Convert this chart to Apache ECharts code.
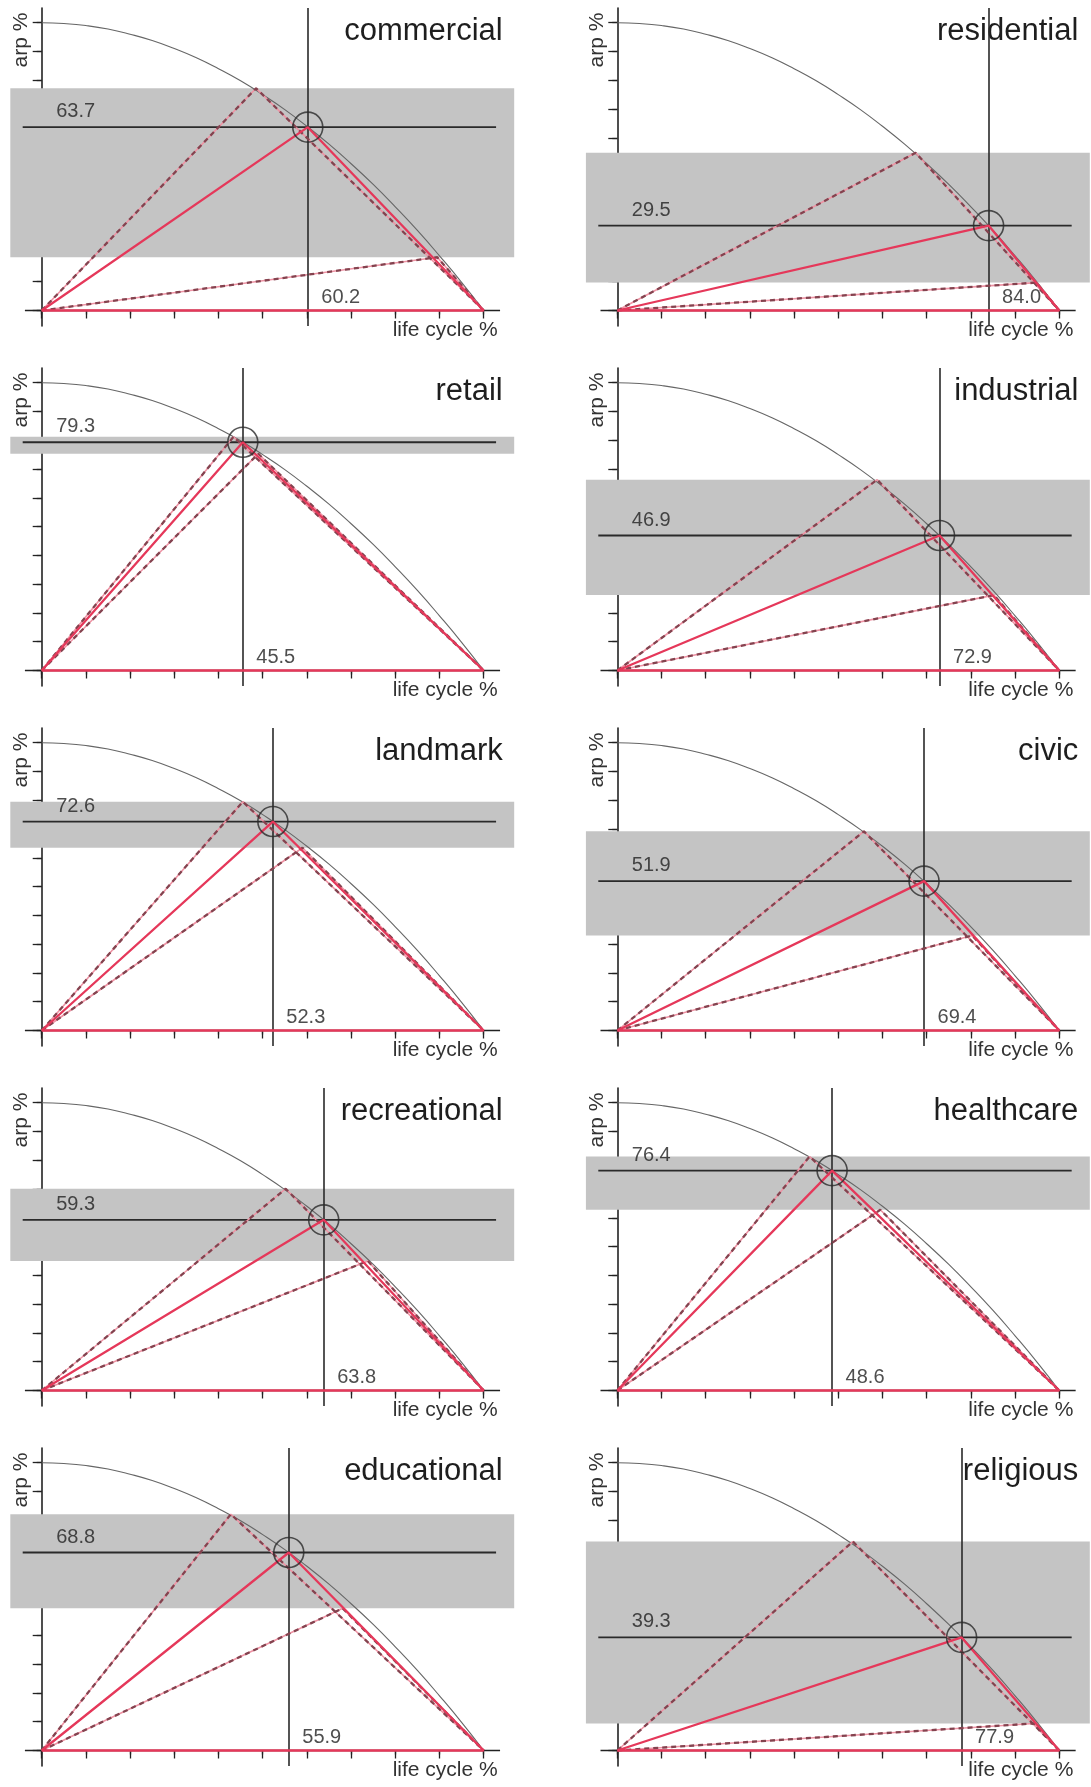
<!DOCTYPE html>
<html><head><meta charset="utf-8">
<script src="https://cdn.jsdelivr.net/npm/echarts@6/dist/echarts.min.js"></script>
<style>html,body{margin:0;padding:0;background:#fff}#c{width:1091px;height:1787px}</style>
</head><body><div id="c"></div>
<script>
// ---- data ----
const CATEGORIES = ['commercial','residential','retail','industrial','landmark','civic','recreational','healthcare','educational','religious'];
const LIFE_CYCLE = [60.2, 84.0, 45.5, 72.9, 52.3, 69.4, 63.8, 48.6, 55.9, 77.9];
const ARP        = [63.7, 29.5, 79.3, 46.9, 72.6, 51.9, 59.3, 76.4, 68.8, 39.3];
const BAND_LOW   = [18.5, 9.7, 75.3, 26.2, 63.5, 33.0, 45.0, 62.8, 49.4, 9.4];
const BAND_HIGH  = [77.2, 54.8, 81.2, 66.3, 79.5, 69.2, 70.1, 81.3, 82.1, 72.6];
const UPPER_X    = [48.5, 67.5, 43.4, 58.8, 45.5, 55.8, 55.2, 43.5, 42.8, 53.3];
const LOWER_X    = [89.5, 94.8, 49.0, 85.2, 59.0, 80.3, 73.8, 59.5, 68.1, 94.2];
const CURVE_X = [0,5,10,15,20,25,30,35,40,45,50,55,60,65,70,75,80,85,90,95,100];
const CURVE_Y = [100,99.7,99,97.8,96,93.8,91,87.8,84,79.8,75,69.8,64,57.8,51,43.8,36,27.8,19,9.8,0];
const TICK_VALUES = [0,10,20,30,40,50,60,70,80,90,100];
const X_AXIS_NAME = 'life cycle %';
const Y_AXIS_NAME = 'arp %';

// ---- layout / style ----
const COL_AXIS_X = [41.7, 617.3];
const ROW_H = 360;
const BASELINE = 310.5;
const PX_X = 4.42, PX_Y = 2.878;
const X_MIN = -7.1, X_MAX = 106.9, Y_MIN = -5.4, Y_MAX = 105.1;
const AXIS_LINE_X = [-3.8, 103.7];
const HLINE_X = [-4.3, 102.8];
const FONT = '"Liberation Sans", Arial, Helvetica, sans-serif';
const DARK = '#2a2a2a';
const RED = '#e5385a';

const grids = [], xAxes = [], yAxes = [], series = [], graphics = [];
const xAxes2 = [], yAxes2 = [];
const n = CATEGORIES.length;

for (let i = 0; i < n; i++) {
  const col = i % 2, row = Math.floor(i / 2);
  const ax = COL_AXIS_X[col];
  const rowTop = row * ROW_H;
  grids.push({
    left: ax + X_MIN * PX_X,
    top: rowTop + BASELINE - Y_MAX * PX_Y,
    width: (X_MAX - X_MIN) * PX_X,
    height: (Y_MAX - Y_MIN) * PX_Y,
    containLabel: false
  });
  const tickStyle = { color: '#222', width: 1.3 };
  xAxes.push({ gridIndex: i, type: 'value', min: X_MIN, max: X_MAX,
    axisLine: { show: false, onZero: true },
    axisTick: { show: true, customValues: TICK_VALUES, length: 8, inside: false, lineStyle: tickStyle },
    axisLabel: { show: false }, splitLine: { show: false } });
  xAxes2.push({ gridIndex: i, type: 'value', min: X_MIN, max: X_MAX,
    axisLine: { show: false, onZero: true },
    axisTick: { show: true, customValues: TICK_VALUES, length: 4, inside: true, lineStyle: tickStyle },
    axisLabel: { show: false }, splitLine: { show: false } });
  yAxes.push({ gridIndex: i, type: 'value', min: Y_MIN, max: Y_MAX,
    axisLine: { show: true, onZero: true, lineStyle: { color: '#222', width: 1.6 } },
    axisTick: { show: true, customValues: TICK_VALUES, length: 5, inside: false, lineStyle: tickStyle },
    axisLabel: { show: false }, splitLine: { show: false } });
  yAxes2.push({ gridIndex: i, type: 'value', min: Y_MIN, max: Y_MAX,
    axisLine: { show: false, onZero: true },
    axisTick: { show: true, customValues: TICK_VALUES, length: 9, inside: true, lineStyle: tickStyle },
    axisLabel: { show: false }, splitLine: { show: false } });

  const base = { xAxisIndex: i, yAxisIndex: i, silent: true, animation: false };
  const lx = LIFE_CYCLE[i], ly = ARP[i];

  // band
  series.push(Object.assign({}, base, { type: 'line', data: [], z: 1,
    markArea: { silent: true, itemStyle: { color: '#c4c4c4' },
      data: [[{ yAxis: BAND_LOW[i] }, { yAxis: BAND_HIGH[i] }]] } }));
  // curve
  series.push(Object.assign({}, base, { type: 'line', z: 2, smooth: true, showSymbol: false,
    data: CURVE_X.map((x, k) => [x, CURVE_Y[k]]),
    lineStyle: { color: '#666', width: 1.1 } }));
  // x axis line
  series.push(Object.assign({}, base, { type: 'line', z: 3, showSymbol: false,
    data: [[AXIS_LINE_X[0], 0], [AXIS_LINE_X[1], 0]],
    lineStyle: { color: '#222', width: 1.6 } }));
  // crosshair
  series.push(Object.assign({}, base, { type: 'line', z: 3, showSymbol: false,
    data: [[HLINE_X[0], ly], [HLINE_X[1], ly]],
    lineStyle: { color: DARK, width: 1.8 },
    markLine: { silent: true, symbol: ['none', 'none'], label: { show: false },
      lineStyle: { color: DARK, width: 1.6, type: 'solid' },
      data: [{ xAxis: lx }] } }));
  // dashed scenario lines
  const upper = [[0, 0], [UPPER_X[i], BAND_HIGH[i]], [100, 0]];
  const lower = [[0, 0], [LOWER_X[i], BAND_LOW[i]], [100, 0]];
  [upper, lower].forEach(d => {
    series.push(Object.assign({}, base, { type: 'line', z: 4, showSymbol: false, data: d,
      lineStyle: { color: '#ee93a4', width: 1.6 } }));
    series.push(Object.assign({}, base, { type: 'line', z: 5, showSymbol: false, data: d,
      lineStyle: { color: '#84434f', width: 2.3, type: [5, 4] } }));
  });
  // solid red triangle
  series.push(Object.assign({}, base, { type: 'line', z: 6, showSymbol: false,
    data: [[0, 0], [lx, ly], [100, 0], [0, 0]],
    lineStyle: { color: RED, width: 2.3 } }));
  // circle marker
  series.push(Object.assign({}, base, { type: 'scatter', z: 7, symbol: 'circle', symbolSize: 30,
    data: [[lx, ly]],
    itemStyle: { color: 'rgba(0,0,0,0)', borderColor: DARK, borderWidth: 1.6 } }));
  // value labels
  const lblStyle = { show: true, align: 'left', verticalAlign: 'bottom', color: '#222',
    fontSize: 20, fontFamily: FONT };
  series.push(Object.assign({}, base, { type: 'scatter', z: 8, symbolSize: 1,
    itemStyle: { color: 'rgba(0,0,0,0)' },
    data: [
      { value: [0, ly], label: Object.assign({}, lblStyle, { position: [15, -5],
        formatter: p => p.value[1].toFixed(1) }) },
      { value: [lx, 0], label: Object.assign({}, lblStyle, { position: [14, -3],
        formatter: p => p.value[0].toFixed(1) }) }
    ] }));

  // texts
  graphics.push({ type: 'text', x: ax + 461, y: rowTop + 31, silent: true,
    style: { text: CATEGORIES[i], fill: '#1e1e1e', font: '31px ' + FONT, align: 'right', verticalAlign: 'middle' } });
  graphics.push({ type: 'text', x: ax + 456, y: rowTop + 330, silent: true,
    style: { text: X_AXIS_NAME, fill: '#333', font: '21px ' + FONT, align: 'right', verticalAlign: 'middle' } });
  graphics.push({ type: 'text', x: ax - 20, y: rowTop + 40, rotation: Math.PI / 2, silent: true,
    style: { text: Y_AXIS_NAME, fill: '#333', font: '21px ' + FONT, align: 'center', verticalAlign: 'middle' } });
}

const chart = echarts.init(document.getElementById('c'), null, { renderer: 'canvas' });
chart.setOption({
  animation: false,
  backgroundColor: '#fff',
  grid: grids,
  xAxis: xAxes.concat(xAxes2),
  yAxis: yAxes.concat(yAxes2),
  series: series,
  graphic: graphics
});
</script></body></html>
